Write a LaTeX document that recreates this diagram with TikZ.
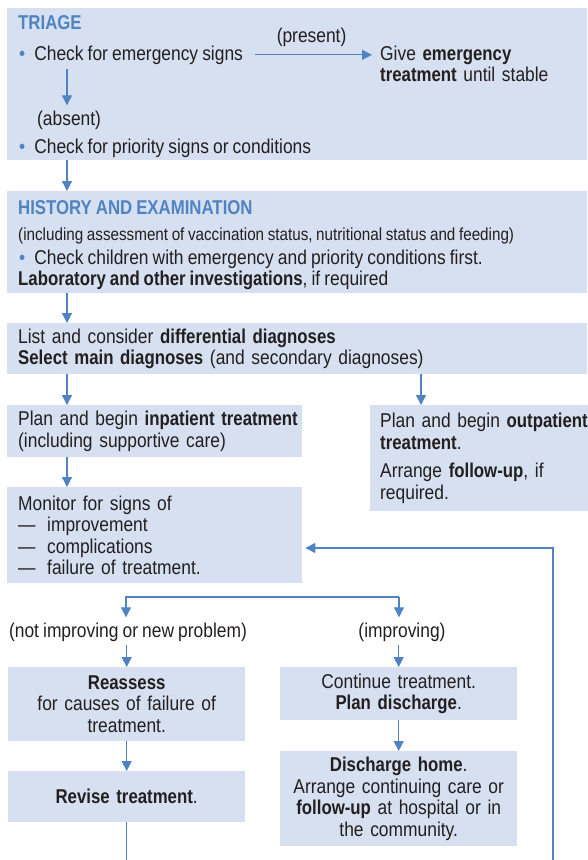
\documentclass[tikz,border=0pt]{standalone}
\usepackage{fontspec}
\setmainfont{Liberation Sans}[FakeStretch=0.87, WordSpace=0.85, BoldFeatures={FakeStretch=0.84}]
\usepackage{xcolor}
\usetikzlibrary{positioning, arrows.meta}

\definecolor{whoblue}{RGB}{79,131,194}
\definecolor{panelfill}{RGB}{214,224,240}
\definecolor{ink}{RGB}{35,31,32}

\newcommand{\bul}{\textcolor{whoblue}{\textbullet}\hspace{9pt}}
\newcommand{\emline}[1]{\makebox[29pt][l]{---}#1}
\newcommand{\smallfont}{\fontsize{17.5}{19}\selectfont}

\tikzset{
  panel/.style={fill=panelfill, anchor=north west, inner sep=0pt},
  box/.style={panel, align=left, execute at begin node={\leftskip=11pt\relax}},
  cbox/.style={panel, align=center},
  txt/.style={anchor=base west, inner sep=0pt},
  head/.style={txt, text=whoblue, font=\fontsize{20}{21.5}\selectfont\bfseries},
  lbl/.style={anchor=base, inner sep=0pt},
  arr/.style={draw=whoblue, line width=1.2pt, -{Triangle[length=10pt,width=10pt]}},
  wire/.style={draw=whoblue, line width=1.2pt}
}

\begin{document}
\begin{tikzpicture}[x=1pt, y=-1pt, font=\fontsize{20}{21.5}\selectfont, text=ink]
  \useasboundingbox (0,0) rectangle (587,860);

  % triage
  \node[panel, minimum width=580pt, minimum height=152pt] (triage) at (7,8) {};
  \node[head] (tri) at (18,29) {TRIAGE};
  \node[txt] (emerg) at (19,60) {\bul Check for emergency signs};
  \node[txt, text width=205pt, align=left] (give) at (380,60) {Give \textbf{emergency}\\\textbf{treatment} until stable};
  \node[txt] (absent) at (37,125) {(absent)};
  \node[txt] (prio) at (19,153) {\bul Check for priority signs or conditions};
  \draw[arr, shorten <=12pt, shorten >=8pt] (emerg.east) -- (emerg.east -| give.west)
    node[midway, above=8pt, inner sep=0pt] (present) {(present)};
  \coordinate (spine) at (67,0);
  \draw[arr, shorten <=5pt, shorten >=5pt] (emerg.south -| spine) -- (absent.north -| spine);

  % history and examination
  \node[panel, minimum width=580pt, minimum height=102pt] (history) at (7,191) {};
  \node[head] (hist) at (18,214) {HISTORY AND EXAMINATION};
  \node[txt, font=\smallfont] (incl) at (18,240) {(including assessment of vaccination status, nutritional status and feeding)};
  \node[txt] (chk) at (19,264) {\bul Check children with emergency and priority conditions first.};
  \node[txt] (lab) at (18,285) {\textbf{Laboratory and other investigations}, if required};
  \draw[arr] (triage.south -| spine) -- (history.north -| spine);

  % diagnoses
  \node[box, text width=580pt, minimum height=51pt] (diag) at (7,323)
    {List and consider \textbf{differential diagnoses}\\\textbf{Select main diagnoses} (and secondary diagnoses)};
  \draw[arr] (history.south -| spine) -- (diag.north -| spine);

  % treatment
  \node[box, text width=295pt, minimum height=52pt] (inpat) at (7,405)
    {Plan and begin \textbf{inpatient treatment}\\(including supportive care)};
  \node[box, text width=240pt, minimum height=106pt, execute at begin node={\leftskip=10pt\relax}] (outpat) at (370,405)
    {Plan and begin \textbf{outpatient}\\\textbf{treatment}.\\[7pt]Arrange \textbf{follow-up}, if\\required.};
  \coordinate (rspine) at (421,0);
  \draw[arr] (diag.south -| spine) -- (inpat.north -| spine);
  \draw[arr] (diag.south -| rspine) -- (outpat.north -| rspine);

  \node[box, text width=295pt, minimum height=96pt] (monitor) at (7,487)
    {Monitor for signs of\\\emline{improvement}\\\emline{complications}\\\emline{failure of treatment.}};
  \draw[arr] (inpat.south -| spine) -- (monitor.north -| spine);

  % loop back
  \coordinate (loopbot) at (553,860);
  \coordinate (looptop) at (553,548);
  \draw[arr, shorten >=3pt] (loopbot) -- (looptop) -- (looptop -| monitor.east);

  % fork
  \coordinate (forkL) at (126,597);
  \coordinate (forkR) at (399,597);
  \node[lbl] (notimp) at (128,637) {(not improving or new problem)};
  \node[lbl] (imp) at (402,637) {(improving)};
  \draw[arr, shorten >=5pt] (forkR) -- (forkL) -- (forkL |- notimp.north);
  \draw[arr, shorten >=5pt] (forkR) -- (forkR |- imp.north);

  \node[cbox, text width=237pt, minimum height=74pt] (reassess) at (8,667)
    {\textbf{Reassess}\\for causes of failure of\\treatment.};
  \node[cbox, text width=237pt, minimum height=51pt] (revise) at (8,771) {\textbf{Revise treatment}.};
  \node[cbox, text width=237pt, minimum height=53pt] (cont) at (280,667)
    {Continue treatment.\\\textbf{Plan discharge}.};
  \node[cbox, text width=237pt, minimum height=95pt] (disch) at (280,751)
    {\textbf{Discharge home}.\\Arrange continuing care or\\\textbf{follow-up} at hospital or in\\the community.};
  \draw[arr, shorten <=4pt] (notimp.south -| reassess.north) -- (reassess.north);
  \draw[arr, shorten <=4pt] (imp.south -| cont.north) -- (cont.north);
  \draw[arr] (reassess) -- (revise);
  \draw[arr] (cont) -- (disch);
  \draw[wire] (revise.south) -- (revise.south |- loopbot);
\end{tikzpicture}
\end{document}
